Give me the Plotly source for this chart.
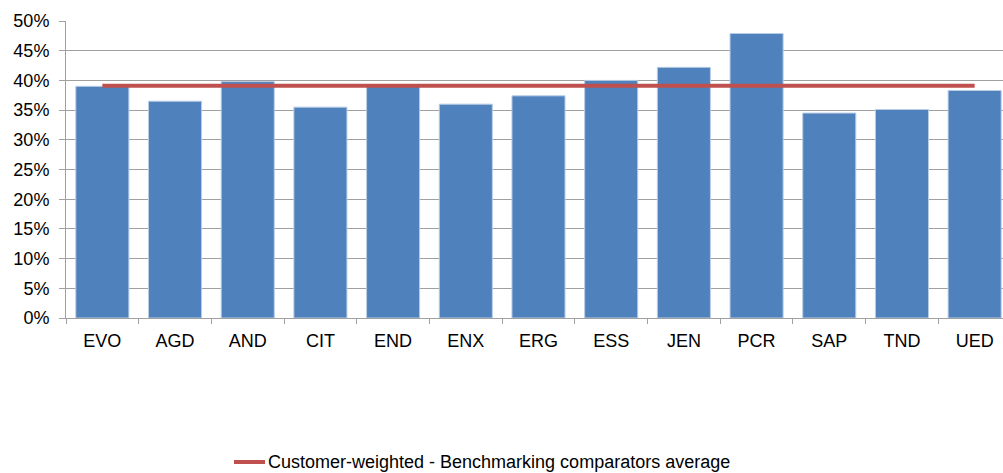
import plotly.graph_objects as go

categories = ["EVO", "AGD", "AND", "CIT", "END", "ENX", "ERG", "ESS", "JEN", "PCR", "SAP", "TND", "UED"]
values = [0.390, 0.365, 0.398, 0.355, 0.392, 0.360, 0.374, 0.400, 0.422, 0.479, 0.345, 0.351, 0.383]
average_value = 0.391
average_name = "Customer-weighted - Benchmarking comparators average"

FONT = "Liberation Sans, Arial, sans-serif"
W, H = 1003, 473
ML, MR, MT, MB = 66, 0, 21, 155

fig = go.Figure()
fig.add_trace(go.Bar(
    x=categories, y=values, showlegend=False,
    marker=dict(color="#4F81BD", line=dict(color="#B9CDE5", width=1)),
    width=0.73,
))
fig.add_trace(go.Scatter(
    x=[categories[0], categories[-1]], y=[average_value, average_value],
    mode="lines", name=average_name, showlegend=False,
    line=dict(color="#C0504D", width=4),
))

# manual legend (in paper coordinates)
pw = W - ML - MR
ph = H - MT - MB
def px_x(x):
    return (x - ML) / pw
def px_y(y):
    return (H - MB - y) / ph

fig.add_shape(type="line", xref="paper", yref="paper",
              x0=px_x(234), x1=px_x(265), y0=px_y(462), y1=px_y(462),
              line=dict(color="#C0504D", width=4))
fig.add_annotation(xref="paper", yref="paper", x=px_x(266), y=px_y(462),
                   xanchor="left", yanchor="middle", text=average_name,
                   showarrow=False, font=dict(size=18, family=FONT, color="#000000"))

fig.update_layout(
    width=W, height=H,
    margin=dict(l=ML, r=MR, t=MT, b=MB),
    plot_bgcolor="white", paper_bgcolor="white",
    font=dict(family=FONT, size=18, color="#000000"),
    showlegend=False,
    xaxis=dict(type="category", range=[-0.5, 12.39], showgrid=False,
               showline=True, linecolor="#A0A0A0", linewidth=1,
               ticks="outside", ticklen=5, tickcolor="#A0A0A0", tickson="boundaries",
               tickfont=dict(size=18), ticklabelstandoff=6),
    yaxis=dict(range=[0, 0.5], dtick=0.05, tickformat=".0%",
               showgrid=True, gridcolor="#A0A0A0", gridwidth=1,
               showline=True, linecolor="#A0A0A0", linewidth=1,
               ticks="outside", ticklen=6, tickcolor="#A0A0A0",
               tickfont=dict(size=18), zeroline=False, ticklabelstandoff=6),
    bargap=0.27,
)

fig.write_html("out.html")
